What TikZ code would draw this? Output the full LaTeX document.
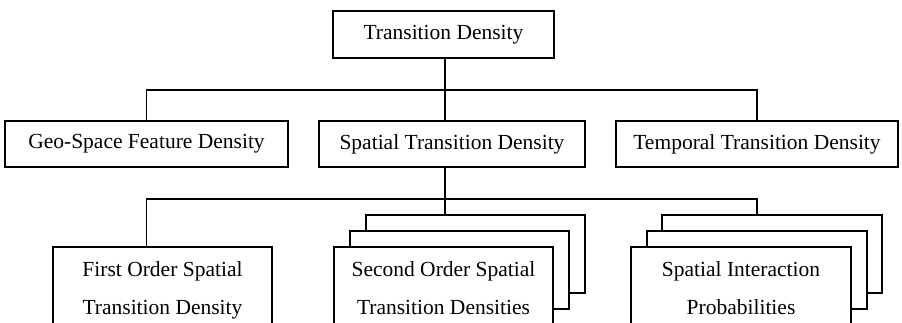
\documentclass[tikz,border=0pt]{standalone}
\usepackage{fontspec}
\setmainfont{Liberation Serif}
\begin{document}
\begin{tikzpicture}[x=1pt,y=-1pt,
  box/.style={draw, line width=1.6pt, fill=white, inner sep=0pt, font=\fontsize{21.5}{26}\selectfont},
  onebox/.style={box, minimum height=46pt},
  twobox/.style={box, anchor=north, inner ysep=15pt, align=center, minimum width=219pt, minimum height=78pt, font=\fontsize{21.5}{38}\selectfont},
  stackbox/.style={box, minimum width=219pt, minimum height=78pt},
  link/.style={line width=1.6pt}]
\useasboundingbox (0,0) rectangle (902,322);
\clip (0,0) rectangle (902,322);
% level 0 and 1
\node[onebox, minimum width=221pt, minimum height=47pt] (top) at (443.5,34.5) {Transition Density};
\node[onebox, minimum width=283pt] (geo) at (146.5,144) {Geo-Space Feature Density};
\node[onebox, minimum width=266pt] (spatial) at (452,144) {Spatial Transition Density};
\node[onebox, minimum width=282pt] (temporal) at (757,144) {Temporal Transition Density};
\coordinate (barA) at (445,90);
\coordinate (barB) at (445,199);
% level 2
\node[twobox] (first) at (162.5,246) {First Order Spatial\\Transition Density};
\node[stackbox] (so3) at (475.5,254) {};
\node[stackbox] (so2) at (459.5,270) {};
\node[twobox] (so1) at (443.5,246) {Second Order Spatial\\Transition Densities};
\node[stackbox, minimum width=220pt] (si3) at (772,254) {};
\node[stackbox, minimum width=220pt] (si2) at (757,270) {};
\node[twobox, minimum width=220pt] (si1) at (741,246) {Spatial Interaction\\Probabilities};
% connectors
\draw[link] (top.south -| barA) -- (spatial.north -| barA);
\draw[link] (geo.north) -- (geo.north |- barA) -- (temporal.north |- barA) -- (temporal.north);
\draw[link] (spatial.south -| barB) -- (so3.north -| barB);
\draw[link] (geo.center |- first.north) -- (geo.center |- barB) -- (temporal.center |- barB) -- (temporal.center |- si3.north);
\end{tikzpicture}
\end{document}
